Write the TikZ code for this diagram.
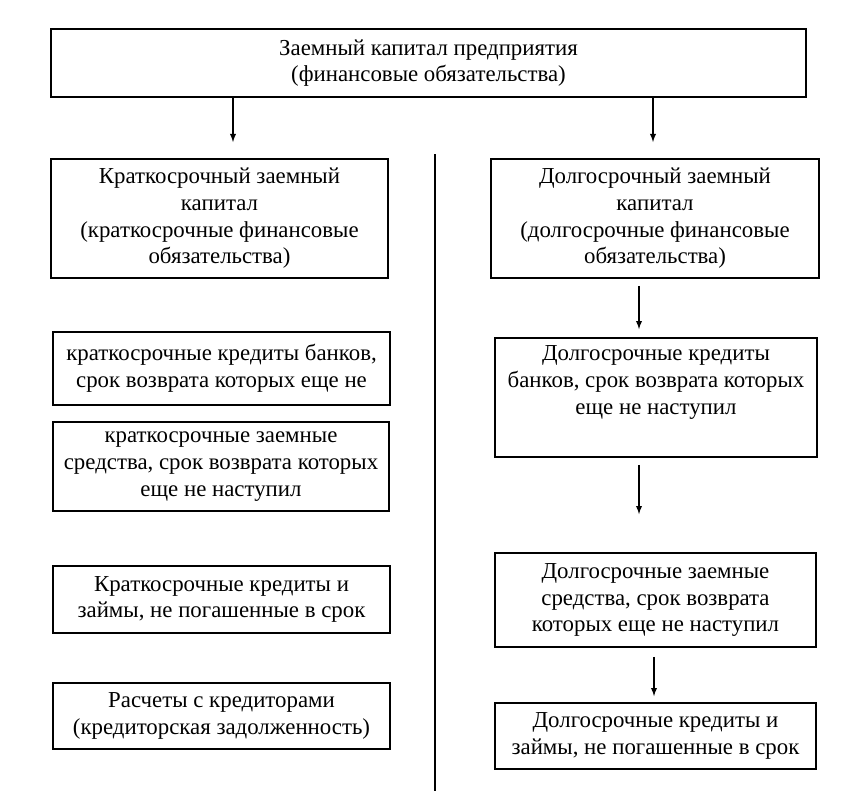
\documentclass[tikz,border=0pt]{standalone}
\usepackage{fontspec}
\setmainfont{Liberation Serif}
\begin{document}
\begin{tikzpicture}[x=0.2mm,y=-0.2mm,
    box/.style={draw, line width=1pt, align=center, inner sep=0pt,
      font=\fontsize{13}{15.2}\selectfont},
    arr/.style={->, >=latex, line width=0.6pt}]
    \useasboundingbox (0,0) rectangle (844,802);
    % top
    \node[box, minimum width=151mm, minimum height=13.6mm] (top) at (428.5,63)
      {Заемный капитал предприятия\\(финансовые обязательства)};
    % left column
    \node[box, minimum width=67.4mm, minimum height=23.8mm] (short) at (219.5,218.5)
      {Краткосрочный заемный\\капитал\\(краткосрочные финансовые\\обязательства)};
    \node[box, minimum width=67.4mm, minimum height=14.6mm] (sbank) at (221.5,368.5)
      {краткосрочные кредиты банков,\\срок возврата которых еще не};
    \node[box, minimum width=67.2mm, minimum height=17.8mm] (sfund) at (221,466.5)
      {краткосрочные заемные\\средства, срок возврата которых\\еще не наступил};
    \node[box, minimum width=67.4mm, minimum height=13.4mm] (sloan) at (221.5,599.5)
      {Краткосрочные кредиты и\\займы, не погашенные в срок};
    \node[box, minimum width=67.4mm, minimum height=13.2mm] (sdebt) at (221.5,716)
      {Расчеты с кредиторами\\(кредиторская задолженность)};
    % right column
    \node[box, minimum width=65.6mm, minimum height=23.8mm] (long) at (655,218.5)
      {Долгосрочный заемный\\капитал\\(долгосрочные финансовые\\обязательства)};
    \node[box, minimum width=64.4mm, minimum height=23.8mm] (lbank) at (656,397.5)
      {Долгосрочные кредиты\\банков, срок возврата которых\\еще не наступил\\\strut};
    \node[box, minimum width=64.2mm, minimum height=18.8mm] (lfund) at (655.5,600)
      {Долгосрочные заемные\\средства, срок возврата\\которых еще не наступил};
    \node[box, minimum width=64.2mm, minimum height=13.2mm] (lloan) at (655.5,736)
      {Долгосрочные кредиты и\\займы, не погашенные в срок};
    % arrows
    \coordinate (k1) at (233,142);
    \coordinate (k2) at (653,142);
    \coordinate (k3) at (639,0);
    \coordinate (k4) at (654,0);
    \draw[arr] (top.south -| k1) -- (k1);
    \draw[arr] (top.south -| k2) -- (k2);
    \draw[arr, shorten <=1.4mm, shorten >=1.6mm] (long.south -| k3) -- (lbank.north -| k3);
    \draw[arr, shorten <=1.4mm, shorten >=7.6mm] (lbank.south -| k3) -- (lfund.north -| k3);
    \draw[arr, shorten <=1.8mm, shorten >=1.2mm] (lfund.south -| k4) -- (lloan.north -| k4);
    % divider
    \coordinate (d1) at (435,154);
    \coordinate (d2) at (435,791);
    \draw[line width=0.6pt] (d1) -- (d2);
\end{tikzpicture}
\end{document}
